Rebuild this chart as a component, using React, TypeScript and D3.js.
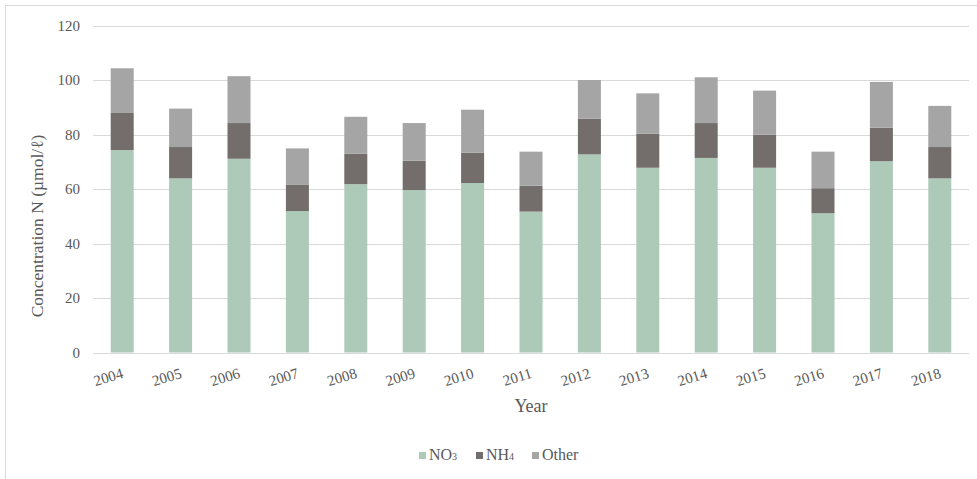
import React, { useEffect, useRef } from "react";
import * as d3 from "d3";

const years = ["2004","2005","2006","2007","2008","2009","2010","2011","2012","2013","2014","2015","2016","2017","2018"];
const no3 = [74.3,63.9,71.1,51.9,61.8,59.6,62.2,51.7,72.7,67.8,71.4,67.8,51.1,70.2,63.9];
const nh4 = [13.6,11.5,13.1,9.6,11.2,10.8,11.1,9.5,13.1,12.5,12.8,12.1,9.2,12.3,11.5];
const other = [16.4,14.1,17.2,13.4,13.5,13.8,15.8,12.5,14.2,14.8,16.8,16.2,13.4,16.8,15.1];
const yTicks = [0,20,40,60,80,100,120];
const seriesKeys = ["NO3","NH4","Other"];
const seriesColors = ["#adc9b7","#736e6b","#a5a5a5"];

export default function App() {
  const ref = useRef<SVGSVGElement>(null);
  useEffect(() => {
    const svg = d3.select(ref.current);
    svg.selectAll("*").remove();
    const W = 977, H = 479;
    const left = 93, right = 969, top = 25.5, bottom = 352.5;
    const font = "Liberation Serif, DejaVu Serif, serif";
    const txt = "#595959";

    svg.append("rect").attr("x", 5.5).attr("y", 5.5).attr("width", W + 20).attr("height", H + 20)
      .attr("fill", "#fff").attr("stroke", "#d9d9d9").attr("stroke-width", 1);

    const x = d3.scaleBand().domain(years).range([left, right]).paddingInner(0.606).paddingOuter(0.303);
    const y = d3.scaleLinear().domain([0, 120]).range([bottom, top]);

    const g = svg.append("g").style("font-family", font);
    g.selectAll("line.grid").data(yTicks).enter().append("line")
      .attr("x1", left).attr("x2", right)
      .attr("y1", d => Math.round(y(d)) + 0.5).attr("y2", d => Math.round(y(d)) + 0.5)
      .attr("stroke", "#d9d9d9").attr("stroke-width", 1);

    g.selectAll("text.ytick").data(yTicks).enter().append("text")
      .attr("x", 80).attr("y", d => y(d)).attr("dy", "0.35em")
      .attr("text-anchor", "end").style("font-family", font).attr("font-size", 15).attr("fill", txt)
      .text(d => String(d));

    const data = years.map((yr, i) => ({ year: yr, NO3: no3[i], NH4: nh4[i], Other: other[i] }));
    const stack = d3.stack<any>().keys(seriesKeys)(data);
    stack.forEach((s, si) => {
      g.selectAll(null).data(s).enter().append("rect")
        .attr("x", d => x(d.data.year)!)
        .attr("width", x.bandwidth())
        .attr("y", d => y(d[1]))
        .attr("height", d => y(d[0]) - y(d[1]))
        .attr("fill", seriesColors[si]);
    });

    years.forEach(yr => {
      const cx = x(yr)! + x.bandwidth() / 2;
      g.append("text")
        .attr("transform", `translate(${cx + 2},${bottom + 25}) rotate(-17)`)
        .attr("text-anchor", "end").style("font-family", font).attr("font-size", 15).attr("fill", txt)
        .text(yr);
    });

    g.append("text").attr("x", 531).attr("y", 412).attr("text-anchor", "middle")
      .style("font-family", font).attr("font-size", 18).attr("fill", txt).text("Year");

    g.append("text").attr("transform", "translate(43,226) rotate(-90)").attr("text-anchor", "middle")
      .style("font-family", font).attr("font-size", 17.5).attr("fill", txt).text("Concentration N (µmol/ℓ)");

    const legend = [
      { x: 419, main: "NO", sub: "3" },
      { x: 476, main: "NH", sub: "4" },
      { x: 532, main: "Other", sub: "" },
    ];
    legend.forEach((l, i) => {
      g.append("rect").attr("x", l.x).attr("y", 452).attr("width", 7).attr("height", 7).attr("fill", seriesColors[i]);
      const t = g.append("text").attr("x", l.x + 10).attr("y", 460)
        .style("font-family", font).attr("font-size", 16).attr("fill", txt);
      t.append("tspan").text(l.main);
      if (l.sub) t.append("tspan").attr("font-size", 10).text(l.sub);
    });
  }, []);
  return <svg ref={ref} width={977} height={479} style={{ position: "absolute", left: 0, top: 0, display: "block" }} />;
}
